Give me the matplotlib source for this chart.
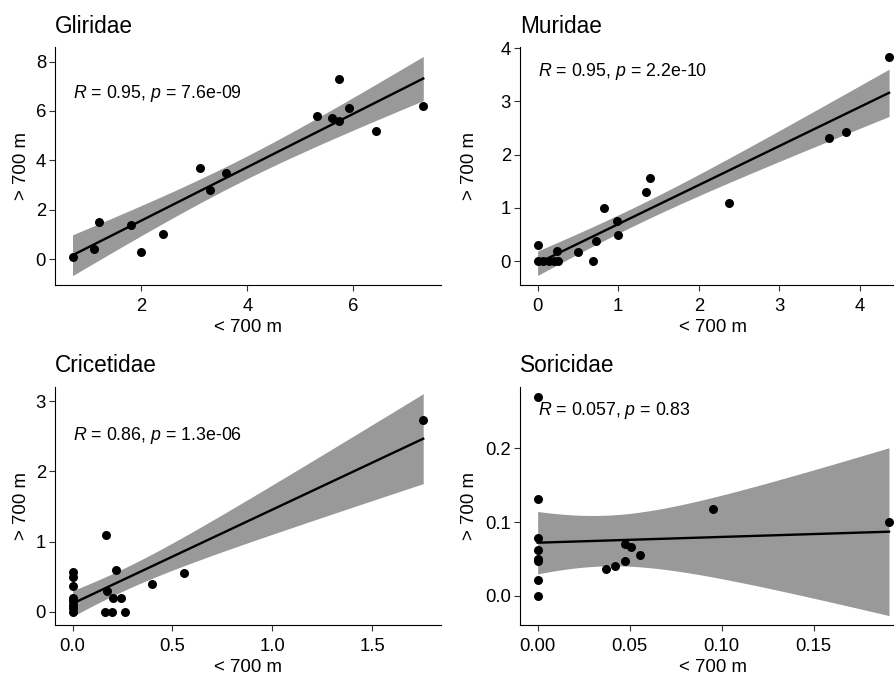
import matplotlib
matplotlib.use('Agg')
import matplotlib.pyplot as plt
import numpy as np

plt.rcParams['font.family'] = ['Liberation Sans', 'DejaVu Sans']
plt.rcParams['mathtext.fontset'] = 'custom'
plt.rcParams['mathtext.rm'] = 'Liberation Sans'
plt.rcParams['mathtext.it'] = 'Liberation Sans:italic'

# Data (< 700 m vs > 700 m)
glir_x = [0.7, 1.1, 1.2, 1.8, 2.0, 2.4, 3.1, 3.3, 3.6, 5.32, 5.6, 5.72, 5.72, 5.92, 6.43, 7.32]
glir_y = [0.1, 0.4, 1.5, 1.4, 0.3, 1.0, 3.7, 2.8, 3.5, 5.8, 5.7, 5.6, 7.3, 6.1, 5.2, 6.2]

mur_x = [0, 0.07, 0.14, 0.2, 0.25, 0, 0.24, 0.5, 0.69, 0.73, 0.83, 0.98, 1.0,
         1.35, 1.4, 2.38, 3.61, 3.83, 4.36]
mur_y = [0, 0, 0, 0, 0, 0.3, 0.19, 0.17, 0, 0.38, 1.0, 0.76, 0.5,
         1.29, 1.57, 1.09, 2.31, 2.43, 3.83]

cric_x = [0, 0, 0, 0, 0, 0, 0, 0, 0.217, 0.17, 0.2, 0.24, 0.16, 0.195, 0.26,
          0.4, 0.56, 0.168, 1.756]
cric_y = [0, 0.05, 0.1, 0.15, 0.2, 0.37, 0.5, 0.57, 0.6, 0.29, 0.2, 0.2, 0, 0, 0,
          0.4, 0.55, 1.09, 2.73]

sor_x = [0, 0, 0, 0, 0, 0, 0, 0, 0.037, 0.042, 0.0474, 0.0474, 0.051, 0.0557, 0.0953, 0.191]
sor_y = [0.27, 0.132, 0.079, 0.062, 0.05, 0.048, 0.022, 0, 0.037, 0.041, 0.048, 0.071,
         0.066, 0.055, 0.118, 0.1]

labels = ['R = 0.95, p = 7.6e-09', 'R = 0.95, p = 2.2e-10',
          'R = 0.86, p = 1.3e-06', 'R = 0.057, p = 0.83']


def t_quantile(df, z=1.959964):
    # Cornish-Fisher approximation of the 97.5% t quantile
    g1 = (z**3 + z) / 4
    g2 = (5 * z**5 + 16 * z**3 + 3 * z) / 96
    g3 = (3 * z**7 + 19 * z**5 + 17 * z**3 - 15 * z) / 384
    return z + g1 / df + g2 / df**2 + g3 / df**3


def panel(ax, x, y, title, label, label_y, xlim, ylim, xticks, yticks, xfmt, yfmt):
    x = np.array(x, dtype=float)
    y = np.array(y, dtype=float)
    n = len(x)
    b, a = np.polyfit(x, y, 1)
    xs = np.linspace(x.min(), x.max(), 80)
    fit = a + b * xs
    resid = y - (a + b * x)
    s = np.sqrt(np.sum(resid**2) / (n - 2))
    se = s * np.sqrt(1 / n + (xs - x.mean())**2 / np.sum((x - x.mean())**2))
    t = t_quantile(n - 2)
    ax.fill_between(xs, fit - t * se, fit + t * se, color='#999999', lw=0, zorder=1)
    ax.plot(xs, fit, color='black', lw=1.7, zorder=2)
    ax.scatter(x, y, s=42, color='black', zorder=3, linewidths=0)

    r, p = label.split(', ')
    txt = r'$\it{R}$' + r[1:] + ', ' + r'$\it{p}$' + p[1:]
    ax.text(x.min(), label_y, txt, fontsize=12.8, ha='left', va='center')

    ax.set_title(title, loc='left', fontsize=16.3, pad=10.5)
    ax.set_xlim(xlim)
    ax.set_ylim(ylim)
    ax.set_xticks(xticks)
    ax.set_yticks(yticks)
    ax.set_xticklabels([xfmt.format(v) for v in xticks])
    ax.set_yticklabels([yfmt.format(v) for v in yticks])
    ax.set_xlabel('< 700 m', fontsize=13.4, labelpad=3)
    ax.set_ylabel('> 700 m', fontsize=13.4)
    ax.tick_params(labelsize=13.3, length=4, width=0.8, color='#333333')
    ax.tick_params(axis='x', pad=5)
    ax.tick_params(axis='y', pad=2.5)
    for side in ['top', 'right']:
        ax.spines[side].set_visible(False)
    for side in ['left', 'bottom']:
        ax.spines[side].set_linewidth(0.8)


fig = plt.figure(figsize=(8.95, 6.74), dpi=100)

ax1 = fig.add_axes([0.0615, 0.577, 0.431, 0.353])
ax2 = fig.add_axes([0.581, 0.577, 0.432, 0.353])
ax3 = fig.add_axes([0.0615, 0.0727, 0.431, 0.3536])
ax4 = fig.add_axes([0.581, 0.0727, 0.432, 0.3536])

panel(ax1, glir_x, glir_y, 'Gliridae', labels[0], 6.72, (0.37, 7.65), (-1.05, 8.58),
      [2, 4, 6], [0, 2, 4, 6, 8], '{:g}', '{:g}')
panel(ax2, mur_x, mur_y, 'Muridae', labels[1], 3.56, (-0.218, 4.578), (-0.45, 4.02),
      [0, 1, 2, 3, 4], [0, 1, 2, 3, 4], '{:g}', '{:g}')
panel(ax3, cric_x, cric_y, 'Cricetidae', labels[2], 2.52, (-0.088, 1.844), (-0.19, 3.21),
      [0, 0.5, 1.0, 1.5], [0, 1, 2, 3], '{:.1f}', '{:g}')
panel(ax4, sor_x, sor_y, 'Soricidae', labels[3], 0.2506, (-0.0096, 0.2006), (-0.0393, 0.2835),
      [0, 0.05, 0.10, 0.15], [0, 0.1, 0.2], '{:.2f}', '{:.1f}')

ax1.yaxis.set_label_coords(-0.065, 0.5)
ax3.yaxis.set_label_coords(-0.065, 0.5)
ax2.yaxis.set_label_coords(-0.109, 0.5)
ax4.yaxis.set_label_coords(-0.109, 0.5)

fig.savefig('out.png', dpi=100)
